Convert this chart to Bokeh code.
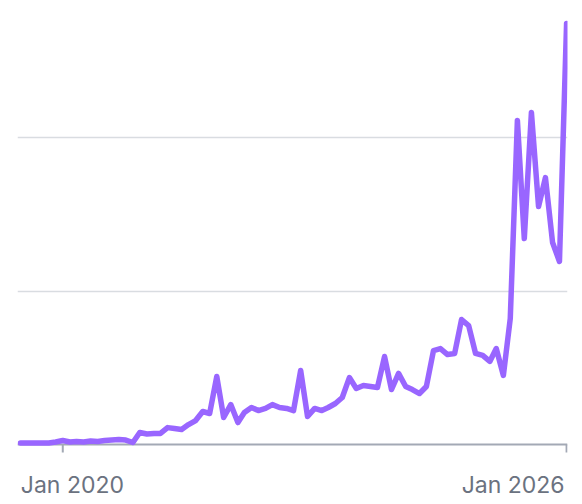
import pandas as pd
from bokeh.plotting import figure
from bokeh.models import ColumnDataSource, FixedTicker, Range1d, Span
from bokeh.core.properties import value
from bokeh.embed import file_html
from bokeh.resources import INLINE

# monthly series, Jul 2019 .. Jan 2026
start_month = "2019-07-01"
values = [
    1, 1, 1, 1, 1, 1.6, 2.6, 1.6, 2, 1.6,
    2.3, 2, 2.6, 2.9, 3.3, 2.9, 1.3, 7.8, 6.8, 7.2,
    7.2, 11, 10.4, 9.8, 13, 15.6, 21.5, 20.2, 44.3, 17.6,
    26, 14.3, 20.8, 24.1, 22.1, 23.5, 26, 24.1, 23.5, 22.1,
    48.2, 18.2, 23.5, 22.1, 24.1, 26.7, 30.6, 43.6, 36.5, 38.4,
    37.8, 37.1, 57.3, 35.8, 46.3, 37.8, 35.8, 33.2, 37.8, 61.2,
    62.5, 58.6, 59.3, 81.4, 77.5, 59.3, 58, 54.1, 62.5, 45,
    82.1, 211.1, 134.2, 216.3, 155, 173.9, 131.6, 119.2, 274.3,
]
dates = pd.date_range(start_month, periods=len(values), freq="MS")

tick_dates = ["2020-01-01", "2026-01-01"]
tick_labels = ["Jan 2020", "Jan 2026"]
grid_values = [100, 200]

AXIS_COLOR = "#A3A9B5"
PX_PER_UNIT = 1.535          # vertical scale (pixels per value unit)
TICK_LEN = 8 / PX_PER_UNIT   # tick mark length, as a style

source = ColumnDataSource(data=dict(date=dates, value=values))
tick_ts = pd.to_datetime(tick_dates)
tick_src = ColumnDataSource(data=dict(
    x=tick_ts, y=[0] * len(tick_ts), y1=[-TICK_LEN] * len(tick_ts),
    text=tick_labels, align=["left", "right"], xoff=[-42, -2],
))

x_start = pd.Timestamp("2019-06-18")
x_end = pd.Timestamp("2026-01-05")

p = figure(
    width=574, height=502,
    x_axis_type="datetime", x_axis_location=None, y_axis_location=None,
    x_range=Range1d(x_start, x_end),
    y_range=Range1d(-(502 - 444) / PX_PER_UNIT, (444 - 8) / PX_PER_UNIT),
    output_backend="svg", toolbar_location=None,
    min_border_left=17, min_border_right=7, min_border_top=8, min_border_bottom=0,
)
p.outline_line_color = None
p.background_fill_color = "white"
p.border_fill_color = "white"

p.xgrid.visible = False
p.ygrid.ticker = FixedTicker(ticks=grid_values)
p.ygrid.grid_line_color = "#D9DCE1"
p.ygrid.grid_line_width = 1.5

# x axis baseline and ticks
p.add_layout(Span(location=0, dimension="width", line_color=AXIS_COLOR,
                  line_width=2, level="underlay"))
p.segment(x0="x", y0="y", x1="x", y1="y1", source=tick_src,
          line_color=AXIS_COLOR, line_width=2)

p.line("date", "value", source=source, line_width=5.5, line_color="#9966FF",
       line_join="round", line_cap="round")

p.text(x="x", y="y", text="text", source=tick_src,
       text_align="align", text_baseline="alphabetic",
       x_offset="xoff", y_offset=40,
       text_font=value("Inter"), text_font_size="23px", text_color="#6B7280")

open("out.html", "w").write(file_html(p, INLINE))
